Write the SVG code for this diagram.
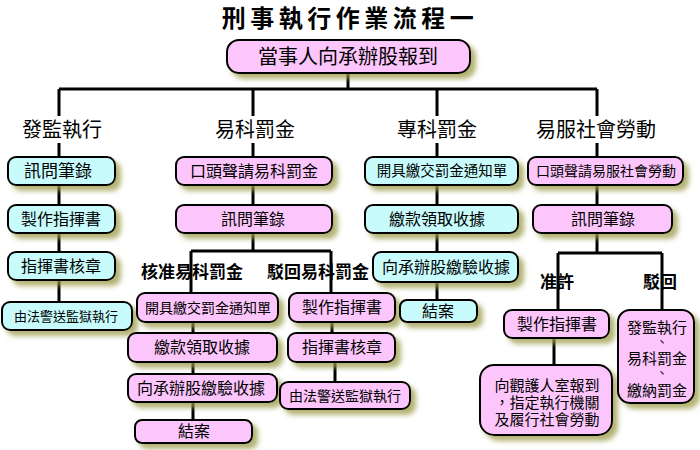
<svg xmlns="http://www.w3.org/2000/svg" width="700" height="450" viewBox="0 0 700 450">
<defs>
<filter id="sh" x="-20%" y="-30%" width="150%" height="180%">
<feGaussianBlur in="SourceAlpha" stdDeviation="2.5" result="b"/>
<feOffset in="b" dx="5" dy="5" result="o"/>
<feFlood flood-color="#9a9a48" flood-opacity="0.75"/>
<feComposite in2="o" operator="in" result="s"/>
<feMerge><feMergeNode in="s"/><feMergeNode in="SourceGraphic"/></feMerge>
</filter>
</defs>
<style>
.p{fill:#fcc6fc;stroke:#000;stroke-width:2;filter:url(#sh)}
.c{fill:#c8fcfc;stroke:#000;stroke-width:2;filter:url(#sh)}
text{font-family:"Noto Sans CJK TC","Noto Sans CJK SC",sans-serif;fill:#000;text-anchor:middle}
.t{font-size:16px}
.h{font-size:20px}
.b{font-size:17px;font-weight:bold}
.s{font-size:15px}
.d{font-size:13px}
.ln{stroke:#000;stroke-width:3;fill:none}
</style>
<rect width="700" height="450" fill="#fff"/>
<text x="350" y="27" style="font-size:24px;font-weight:bold;letter-spacing:4.5px">刑事執行作業流程一</text>
<g id="connectors" class="ln">
<path d="M348 73V89M59 89H597M59 89V116M253 89V116M437 89V116M597 89V116"/>
<path d="M59 143V157M59 185V205M59 233V252M59 280V302"/>
<path d="M253 143V157M253 185V205M253 233V251M191 251H331M191 251V293M331 251V293"/>
<path d="M193 322V333M193 362V374M193 402V420M332 322V333M335 362V382"/>
<path d="M437 143V157M437 185V205M437 233V252M437 282V300"/>
<path d="M597 143V157M597 185V205M597 233V253M558 253H662M558 253V310M662 253V310M554 338V365"/>
</g>
<g id="n0"><rect class="p" x="227" y="40" width="243" height="33" rx="12"/><text class="h" x="348" y="64">當事人向承辦股報到</text></g>
<g id="hdr1"><text class="h" x="62" y="137">發監執行</text></g>
<g id="hdr2"><text class="h" x="255" y="137">易科罰金</text></g>
<g id="hdr3"><text class="h" x="437" y="137">專科罰金</text></g>
<g id="hdr4"><text class="h" x="596" y="137">易服社會勞動</text></g>
<g id="a1"><rect class="c" x="8" y="157" width="107" height="28" rx="8"/><text x="58" y="177" style="font-size:17px">訊問筆錄</text></g>
<g id="a2"><rect class="c" x="8" y="205" width="107" height="28" rx="8"/><text class="t" x="61" y="225">製作指揮書</text></g>
<g id="a3"><rect class="c" x="8" y="252" width="107" height="28" rx="8"/><text class="t" x="61" y="272">指揮書核章</text></g>
<g id="a4"><rect class="c" x="2" y="302" width="130" height="28" rx="8"/><text x="66" y="321" style="font-size:13px">由法警送監獄執行</text></g>
<g id="b1"><rect class="p" x="176" y="157" width="156" height="28" rx="8"/><text class="t" x="254" y="177">口頭聲請易科罰金</text></g>
<g id="b2"><rect class="p" x="176" y="205" width="156" height="28" rx="8"/><text class="t" x="253" y="225">訊問筆錄</text></g>
<g id="l1"><text class="b" x="192" y="278">核准易科罰金</text></g>
<g id="l2"><text class="b" x="318" y="278">駁回易科罰金</text></g>
<g id="b3"><rect class="p" x="137" y="293" width="141" height="29" rx="8"/><text x="208" y="313" style="font-size:14px">開具繳交罰金通知單</text></g>
<g id="b4"><rect class="p" x="128" y="333" width="149" height="29" rx="8"/><text class="t" x="202" y="353">繳款領取收據</text></g>
<g id="b5"><rect class="p" x="128" y="374" width="149" height="28" rx="8"/><text class="t" x="201" y="394">向承辦股繳驗收據</text></g>
<g id="b6"><rect class="p" x="135" y="420" width="117" height="23" rx="7"/><text class="t" x="194" y="437">結案</text></g>
<g id="c1"><rect class="p" x="289" y="293" width="106" height="29" rx="8"/><text class="t" x="342" y="313">製作指揮書</text></g>
<g id="c2"><rect class="p" x="288" y="333" width="107" height="29" rx="8"/><text class="t" x="342" y="353">指揮書核章</text></g>
<g id="c3"><rect class="p" x="280" y="382" width="130" height="27" rx="8"/><text x="345" y="401" style="font-size:14px">由法警送監獄執行</text></g>
<g id="d1"><rect class="c" x="365" y="157" width="153" height="28" rx="8"/><text x="442" y="176" style="font-size:14.5px">開具繳交罰金通知單</text></g>
<g id="d2"><rect class="c" x="365" y="205" width="153" height="28" rx="8"/><text class="t" x="437" y="225">繳款領取收據</text></g>
<g id="d3"><rect class="c" x="373" y="252" width="145" height="30" rx="8"/><text class="t" x="446" y="273">向承辦股繳驗收據</text></g>
<g id="d4"><rect class="c" x="400" y="300" width="77" height="22" rx="7"/><text class="t" x="438" y="317">結案</text></g>
<g id="e1"><rect class="p" x="528" y="157" width="155" height="28" rx="8"/><text x="606" y="176" style="font-size:14px">口頭聲請易服社會勞動</text></g>
<g id="e2"><rect class="p" x="533" y="205" width="139" height="28" rx="8"/><text class="t" x="603" y="225">訊問筆錄</text></g>
<g id="l3"><text class="b" x="557" y="288">准許</text></g>
<g id="l4"><text class="b" x="660" y="288">駁回</text></g>
<g id="e3"><rect class="p" x="504" y="310" width="105" height="28" rx="8"/><text class="t" x="557" y="330">製作指揮書</text></g>
<g id="e4"><rect class="p" x="480" y="365" width="132" height="70" rx="14"/><text class="s" x="547" y="391"><tspan x="547" y="391">向觀護人室報到</tspan><tspan x="547" y="408">，指定執行機關</tspan><tspan x="547" y="425">及履行社會勞動</tspan></text></g>
<g id="e5"><rect class="p" x="618" y="310" width="76" height="93" rx="12"/><text class="s" x="657" y="333"><tspan x="657" y="333">發監執行</tspan><tspan class="d" x="662" y="346">、</tspan><tspan x="657" y="364">易科罰金</tspan><tspan class="d" x="662" y="377">、</tspan><tspan x="657" y="396">繳納罰金</tspan></text></g>
</svg>
